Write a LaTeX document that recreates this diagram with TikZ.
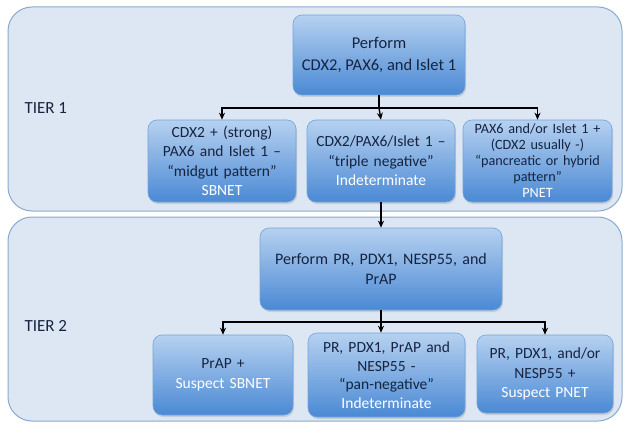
\documentclass[tikz,border=0pt]{standalone}
\usepackage{fontspec}
\setmainfont{Carlito}
\usetikzlibrary{arrows.meta,shadows}
\definecolor{panelfill}{RGB}{221,231,243}
\definecolor{paneldraw}{RGB}{140,170,205}
\definecolor{boxtop}{RGB}{182,209,240}
\definecolor{boxbot}{RGB}{74,137,212}
\definecolor{boxdraw}{RGB}{115,163,217}
\definecolor{navy}{RGB}{22,36,64}
\tikzset{
  panel/.style={draw=paneldraw, line width=1pt, fill=panelfill, rounded corners=24pt},
  box/.style={draw=boxdraw, line width=0.6pt, rounded corners=9pt, top color=boxtop, bottom color=boxbot,
    align=center, text=navy, inner sep=1pt, font=\fontsize{15.5}{19.5}\selectfont,
    drop shadow={shadow xshift=1pt, shadow yshift=-2pt, opacity=0.25}},
  tier/.style={text=navy, font=\fontsize{17}{20}\selectfont, anchor=west},
  conn/.style={line width=1.4pt, black},
  arr/.style={conn, -{Stealth[length=7pt,width=6pt]}}
}
\begin{document}
\begin{tikzpicture}[x=1pt,y=-1pt]
\useasboundingbox (0,0) rectangle (629,433);
\fill[white] (0,0) rectangle (629,433);
% panels
\draw[panel] (8,7) rectangle (622,211);
\draw[panel] (8,217) rectangle (622,421);
\node[tier] (t1) at (21,108) {TIER 1};
\node[tier] (t2) at (21,326) {TIER 2};
% tier 1 boxes
\node[box, minimum width=172pt, minimum height=80pt, font=\fontsize{16.5}{21.5}\selectfont] (top) at (379,55) {Perform\\CDX2, PAX6, and Islet 1};
\node[box, minimum width=148pt, minimum height=82pt, text width=146pt] (a1) at (222,161)
  {CDX2 + (strong)\\PAX6 and Islet 1 –\\“midgut pattern”\\\textcolor{white}{SBNET}};
\node[box, minimum width=148pt, minimum height=82pt, text width=146pt] (a2) at (381,161)
  {CDX2/PAX6/Islet 1 –\\“triple negative”\\\textcolor{white}{Indeterminate}};
\node[box, minimum width=149pt, minimum height=82pt, text width=147pt, font=\fontsize{14.2}{16}\selectfont] (a3) at (537.5,161)
  {PAX6 and/or Islet 1 +\\(CDX2 usually -)\\“pancreatic or hybrid\\pattern”\\\textcolor{white}{PNET}};
% tier 2 boxes
\node[box, minimum width=242pt, minimum height=82pt, text width=238pt, font=\fontsize{16}{20}\selectfont] (mid) at (381,269)
  {Perform PR, PDX1, NESP55, and\\PrAP};
\node[box, minimum width=140pt, minimum height=80pt, text width=138pt] (b1) at (223,375)
  {PrAP +\\\textcolor{white}{Suspect SBNET}};
\node[box, minimum width=157pt, minimum height=84pt, text width=155pt, font=\fontsize{15.5}{18.5}\selectfont] (b2) at (386.5,375)
  {PR, PDX1, PrAP and\\NESP55 -\\“pan-negative”\\\textcolor{white}{Indeterminate}};
\node[box, minimum width=136pt, minimum height=78pt, text width=134pt] (b3) at (545,374)
  {PR, PDX1, and/or\\NESP55 +\\\textcolor{white}{Suspect PNET}};
% connectors
\coordinate (j1) at (top.south |- 0,108);
\draw[conn] (top.south) -- (j1);
\draw[arr] (j1) -| (a1.north);
\draw[arr] (j1) -| (a3.north);
\draw[arr] (j1) -- (a2.north);
\draw[arr] (a2.south) -- (mid.north -| a2.south);
\coordinate (j2) at (mid.south |- 0,322);
\draw[conn] (mid.south) -- (j2);
\draw[arr] (j2) -| (b1.north);
\draw[arr] (j2) -| (b3.north);
\draw[arr] (j2) -- (j2 |- b2.north);
\end{tikzpicture}
\end{document}
